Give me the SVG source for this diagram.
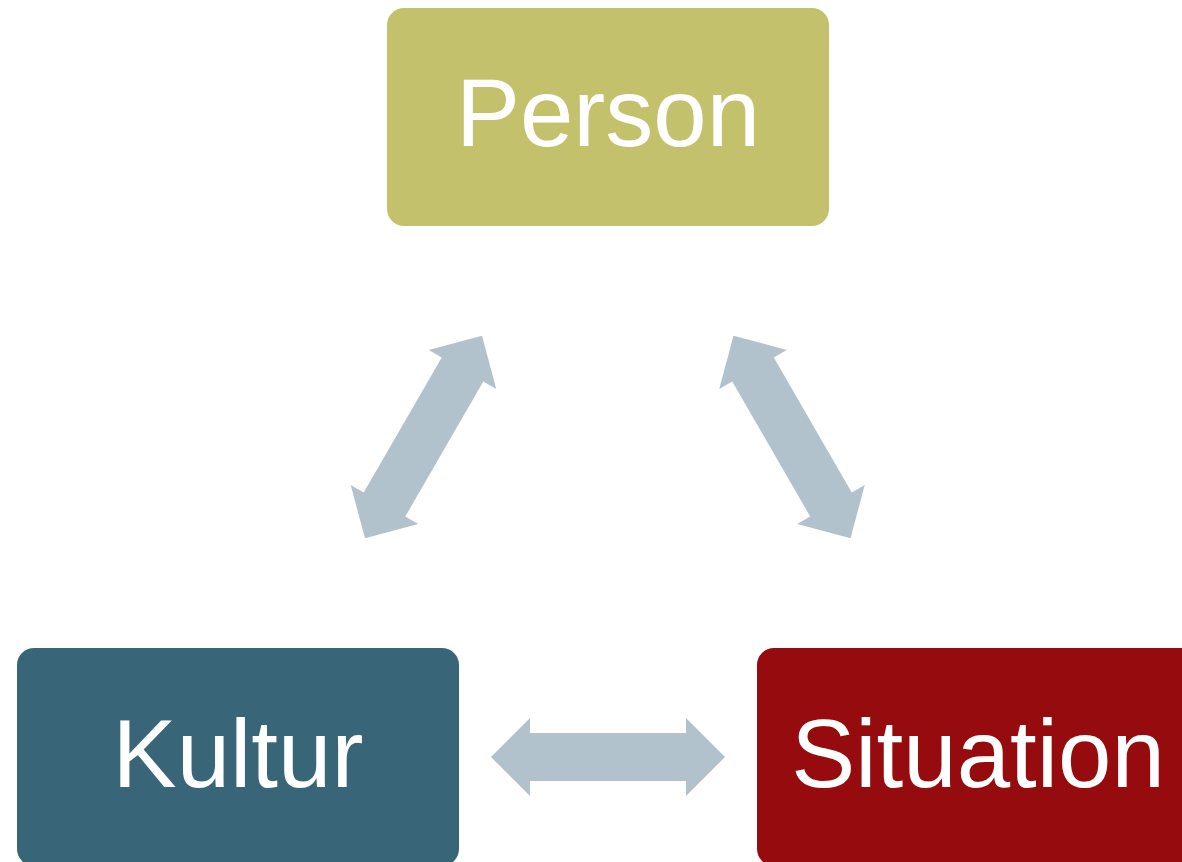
<svg xmlns="http://www.w3.org/2000/svg" xmlns:xlink="http://www.w3.org/1999/xlink" width="1182" height="862" viewBox="0 0 1182 862">
<style>
.box{stroke:none}
.lbl{font-family:"Liberation Sans",Arial,sans-serif;font-size:96px;fill:#ffffff;text-anchor:middle}
.arr{fill:#B2C2CD}
</style>
<defs>
<polygon id="dbl" points="-117,0 -78,-39 -78,-24 78,-24 78,-39 117,0 78,39 78,24 -78,24 -78,39"/>
</defs>
<rect width="1182" height="862" fill="#ffffff"/>
<g id="connectors" class="arr">
<use xlink:href="#dbl" transform="translate(423.5,437) rotate(-60)"/>
<use xlink:href="#dbl" transform="translate(792,437) rotate(60)"/>
<use xlink:href="#dbl" transform="translate(608,757)"/>
</g>
<g id="person">
<rect class="box" x="387" y="8" width="442" height="218" rx="17" fill="#C3C16B"/>
<text class="lbl" x="608" y="146">Person</text>
</g>
<g id="kultur">
<rect class="box" x="17" y="648" width="442" height="218" rx="17" fill="#386577"/>
<text class="lbl" x="238" y="787">Kultur</text>
</g>
<g id="situation">
<rect class="box" x="757" y="648" width="442" height="218" rx="17" fill="#960C0E"/>
<text class="lbl" x="978" y="787">Situation</text>
</g>
</svg>
